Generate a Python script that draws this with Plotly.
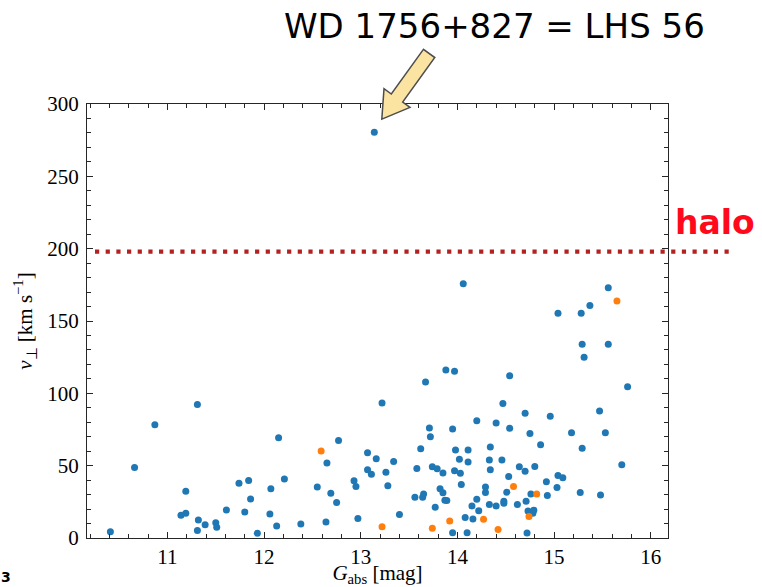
import plotly.graph_objects as go

# Absolute Gaia G magnitude vs. tangential velocity of nearby white dwarfs
blue_g = [10.41, 10.66, 10.87, 11.31, 12.15, 12.21, 11.19, 11.14, 11.19, 11.32,
          11.31, 11.39, 11.50, 11.51, 11.61, 11.74, 11.84, 11.86, 11.80, 11.93,
          12.07, 12.06, 12.13,
          12.38, 12.64, 12.65, 12.77, 12.55, 12.69, 12.75, 13.22, 13.07, 13.16,
          13.07, 13.11, 12.93, 12.95, 12.97, 13.26, 13.34, 13.28, 13.40, 13.67,
          13.88, 13.97, 14.20, 13.71, 13.72, 13.95, 13.62, 13.98, 14.11, 14.02,
          14.11, 13.58, 13.74, 13.79, 13.85, 13.97, 14.03, 14.04, 13.56, 13.64,
          13.65, 13.82, 13.85, 13.87, 13.89, 13.77, 14.15, 14.20, 14.22, 14.08,
          14.16, 13.95, 14.10,
          14.06, 15.04, 15.28, 15.37, 15.56, 15.29, 15.56, 15.31,
          14.54, 15.76, 14.47, 14.70, 14.96, 15.47, 14.40, 14.54, 14.75, 15.18,
          15.53, 14.86, 15.29, 14.34, 14.33, 14.46, 14.34, 14.64, 14.70, 14.80,
          15.70, 14.53, 15.04, 15.09, 14.92, 14.29, 14.29, 14.51, 14.76, 14.93,
          15.03, 15.27, 15.48, 14.33, 14.40, 14.48, 14.48, 14.62, 14.71, 14.73,
          14.78, 14.79, 14.72]
blue_v = [4.4, 48.7, 78.3, 92.2, 69.3, 40.7, 32.4, 15.7, 17.1, 12.5,
          5.1, 9.2, 10.6, 7.4, 19.4, 37.9, 39.7, 27.0, 18.0, 3.2,
          34.0, 16.6, 8.3,
          9.7, 11.1, 51.8, 67.4, 35.3, 31.0, 24.5, 93.3, 58.9, 54.7,
          47.1, 44.1, 39.5, 35.6, 13.4, 45.5, 52.9, 36.2, 16.2, 107.9,
          116.2, 115.2, 81.1, 76.0, 70.0, 75.3, 61.7, 60.8, 60.8, 54.5,
          52.5, 48.0, 49.2, 47.8, 45.0, 46.4, 44.8, 36.9, 28.2, 28.2,
          30.5, 34.0, 31.2, 26.1, 25.9, 21.3, 22.2, 26.8, 18.9, 14.1,
          13.2, 3.7, 3.7,
          175.8, 155.4, 155.4, 160.8, 173.0, 134.0, 134.0, 125.0,
          112.1, 104.6, 92.9, 86.2, 84.1, 87.8, 79.5, 75.8, 72.3, 72.8,
          72.8, 64.4, 62.1, 62.9, 54.0, 54.0, 47.1, 49.2, 46.2, 49.4,
          50.6, 42.5, 43.2, 41.6, 38.8, 35.3, 31.4, 31.7, 30.5, 29.3,
          34.9, 31.4, 29.8, 23.1, 22.2, 25.4, 24.0, 23.1, 25.4, 18.7,
          17.1, 19.2, 3.5]

orange_g = [12.59, 13.22, 13.74, 13.92, 14.58, 14.82, 14.74, 14.27, 14.42, 15.65]
orange_v = [60.1, 7.8, 6.7, 11.8, 35.6, 30.5, 14.8, 13.0, 5.8, 163.8]

# The fast outlier, WD 1756+827 (LHS 56)
lhs56_g = 13.14
lhs56_v = 280.5

halo_v = 198

x_range = [10.168, 16.178]
y_range = [0, 300]

# Figure geometry (pixels)
W, H = 762, 587
ML, MR, MT, MB = 87, 94, 104, 49
PW, PH = W - ML - MR, H - MT - MB

BLUE = "#1f77b4"
ORANGE = "#ff7f0e"
AXC = "#262626"
SERIF = "Liberation Serif"


def to_paper(px, py):
    """Pixel position (from top-left of the page) -> paper coordinates."""
    return (px - ML) / PW, (H - MB - py) / PH


def data_to_px(gx, vy):
    px = ML + (gx - x_range[0]) / (x_range[1] - x_range[0]) * PW
    py = H - MB - (vy - y_range[0]) / (y_range[1] - y_range[0]) * PH
    return px, py


fig = go.Figure()

fig.add_trace(go.Scatter(
    x=blue_g + [lhs56_g], y=blue_v + [lhs56_v], mode="markers",
    marker=dict(color=BLUE, size=7, line=dict(width=0)),
    showlegend=False, cliponaxis=False,
))
fig.add_trace(go.Scatter(
    x=orange_g, y=orange_v, mode="markers",
    marker=dict(color=ORANGE, size=7, line=dict(width=0)),
    showlegend=False, cliponaxis=False,
))

# Halo velocity threshold, running past the right edge of the axes
x_start, _ = to_paper(95, 0)
x_end, _ = to_paper(730, 0)
fig.add_shape(type="line", xref="paper", yref="y",
              x0=x_start, x1=x_end, y0=halo_v, y1=halo_v,
              line=dict(color="#b22222", width=4.2, dash="4.2px,6.47px"))

# Fat arrow pointing at LHS 56
ptx, pty = data_to_px(lhs56_g, lhs56_v)
tip = (ptx + 7.5, pty - 13.0)
ux, uy = -0.584, 0.812          # direction tail -> tip (screen coords)
nx, ny = 0.812, 0.584           # perpendicular
length, head_len, half_w, half_h = 81.0, 26.0, 7.0, 16.0
tail = (tip[0] - length * ux, tip[1] - length * uy)
neck = (tip[0] - head_len * ux, tip[1] - head_len * uy)
poly_px = [
    (tail[0] - half_w * nx, tail[1] - half_w * ny),
    (neck[0] - half_w * nx, neck[1] - half_w * ny),
    (neck[0] - half_h * nx, neck[1] - half_h * ny),
    tip,
    (neck[0] + half_h * nx, neck[1] + half_h * ny),
    (neck[0] + half_w * nx, neck[1] + half_w * ny),
    (tail[0] + half_w * nx, tail[1] + half_w * ny),
]
poly = [to_paper(*p) for p in poly_px]
path = "M " + " L ".join(f"{a:.5f},{b:.5f}" for a, b in poly) + " Z"
fig.add_shape(type="path", xref="paper", yref="paper", path=path,
              fillcolor="#fbe3a1", line=dict(color="#4d4d4d", width=1.5))

tx, ty = to_paper(494, 25.5)
fig.add_annotation(text="WD 1756+827 = LHS 56", xref="paper", yref="paper",
                   x=tx, y=ty, xanchor="center", yanchor="middle",
                   showarrow=False,
                   font=dict(family="DejaVu Sans", size=34, color="black"))

hx, hy = to_paper(715, 222)
fig.add_annotation(text="<b>halo</b>", xref="paper", yref="paper",
                   x=hx, y=hy, xanchor="center", yanchor="middle",
                   showarrow=False,
                   font=dict(family="DejaVu Sans", size=33, color="#ff0a1a"))

cx, cy = to_paper(6, 577)
fig.add_annotation(text="<b>3</b>", xref="paper", yref="paper",
                   x=cx, y=cy, xanchor="center", yanchor="middle",
                   showarrow=False,
                   font=dict(family="DejaVu Sans", size=14, color="black"))

axis_common = dict(
    showline=True, linecolor=AXC, linewidth=1.3, mirror="allticks",
    ticks="inside", ticklen=6, tickwidth=1.1, tickcolor=AXC,
    showgrid=False, zeroline=False,
    tickfont=dict(family=SERIF, size=21, color="black"),
)

fig.update_xaxes(
    range=x_range, tick0=0, dtick=1,
    minor=dict(dtick=0.2, ticks="inside", ticklen=3.5, tickwidth=1, tickcolor=AXC),
    title=dict(text="<i>G</i><sub>abs</sub> [mag]",
               font=dict(family=SERIF, size=21, color="black"), standoff=2),
    **axis_common,
)
fig.update_yaxes(
    range=y_range, tick0=0, dtick=50,
    minor=dict(dtick=10, ticks="inside", ticklen=3.5, tickwidth=1, tickcolor=AXC),
    title=dict(text="<i>v</i><sub>⊥</sub> [km s<sup>−1</sup>]",
               font=dict(family=SERIF, size=21, color="black"), standoff=8),
    ticklabelstandoff=3,
    **axis_common,
)

fig.update_layout(
    width=W, height=H,
    margin=dict(l=ML, r=MR, t=MT, b=MB, autoexpand=False),
    plot_bgcolor="white", paper_bgcolor="white",
    showlegend=False,
)

fig.write_html("out.html")
